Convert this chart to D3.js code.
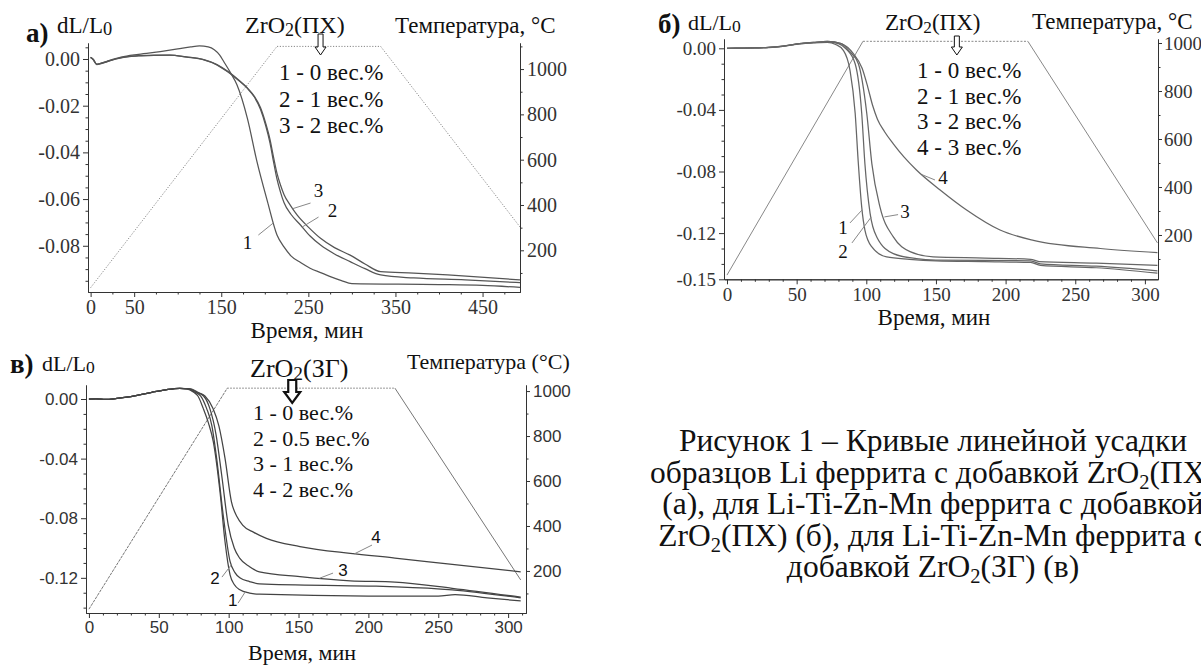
<!DOCTYPE html>
<html>
<head>
<meta charset="utf-8">
<script src="https://cdn.jsdelivr.net/npm/d3@7"></script>
<style>
  body { margin: 0; background: #fff; }
  svg { display: block; }
</style>
</head>
<body>
<svg id="fig" width="1201" height="666"></svg>
<script>
// ---------- data: [time, dL/L0] pairs ----------
// а) Li ferrite + ZrO2(ПХ)
const aCurve1 = [[0,0.0007],[3,-0.0002],[7,-0.0022],[12,-0.0018],[20,-0.0008],[35,0.0008],[55,0.0020],[80,0.0032],[100,0.0043],[115,0.0052],[125,0.0056],[135,0.0052],[142,0.0040],[148,0.0018],[153,-0.0012],[160,-0.0055],[168,-0.0110],[180,-0.0254],[191,-0.0440],[203,-0.0610],[214,-0.0754],[222,-0.0805],[230,-0.0843],[241,-0.0872],[252,-0.0896],[264,-0.0915],[276,-0.0933],[288,-0.0949],[300,-0.0962],[400,-0.0966],[450,-0.0970],[493,-0.0978]];
const aCurve2 = [[0,0.0007],[3,-0.0002],[7,-0.0024],[12,-0.0020],[20,-0.0010],[35,0.0005],[55,0.0013],[75,0.0016],[91,0.0017],[110,0.0008],[130,-0.0004],[145,-0.0025],[157,-0.0054],[170,-0.0092],[180,-0.0126],[188,-0.0163],[195,-0.0215],[201,-0.0285],[206,-0.0360],[210,-0.0440],[214,-0.0515],[218,-0.0570],[222,-0.0615],[230,-0.0665],[241,-0.0711],[252,-0.0758],[264,-0.0797],[280,-0.0835],[298,-0.0868],[315,-0.0898],[333,-0.0925],[371,-0.0938],[430,-0.0946],[493,-0.0958]];
const aCurve3 = [[0,0.0007],[3,-0.0002],[7,-0.0023],[12,-0.0019],[20,-0.0009],[35,0.0006],[55,0.0014],[75,0.0017],[91,0.0017],[110,0.0009],[130,-0.0003],[145,-0.0024],[157,-0.0052],[170,-0.0090],[180,-0.0124],[188,-0.0160],[195,-0.0208],[201,-0.0275],[206,-0.0345],[210,-0.0420],[214,-0.0490],[218,-0.0540],[222,-0.0580],[229,-0.0625],[237,-0.0668],[250,-0.0720],[264,-0.0768],[280,-0.0808],[298,-0.0840],[315,-0.0878],[333,-0.0911],[371,-0.0917],[410,-0.0925],[493,-0.0946]];
const aTemp = [[0,35],[214,1100],[333,1100],[493,303]];
const aLegend = ["1 - 0 вес.%", "2 - 1 вес.%", "3 - 2 вес.%"];
const aTimeTicks = [0, 50, 150, 250, 350, 450];
const aShrinkTicks = [0, -0.02, -0.04, -0.06, -0.08];

// б) Li-Ti-Zn-Mn ferrite + ZrO2(ПХ)
const bCurve1 = [[0,0],[10,0.0001],[20,0.0003],[30,0.0005],[40,0.0012],[52,0.0028],[62,0.0035],[72,0.0038],[78,0.0025],[83.5,-0.0013],[88.3,-0.0143],[92,-0.042],[94.3,-0.075],[96.7,-0.103],[99,-0.118],[104,-0.129],[114.6,-0.1355],[131,-0.137],[150,-0.138],[185,-0.1385],[218,-0.139],[225,-0.141],[265,-0.1425],[309,-0.146]];
const bCurve2 = [[0,0],[10,0.0001],[20,0.0003],[30,0.0006],[40,0.0013],[52,0.003],[62,0.0037],[72,0.0042],[80,0.003],[86,-0.0008],[92,-0.010],[96.7,-0.042],[99,-0.075],[102.7,-0.107],[107.5,-0.1225],[119.4,-0.1333],[136,-0.1366],[150,-0.1375],[218,-0.138],[225,-0.140],[265,-0.1415],[309,-0.1445]];
const bCurve3 = [[0,0],[10,0.0001],[20,0.0003],[30,0.0006],[40,0.0014],[52,0.003],[62,0.0038],[72,0.0045],[82,0.003],[88,-0.002],[94.3,-0.010],[100.3,-0.042],[104,-0.075],[109.8,-0.103],[119.4,-0.1225],[131.4,-0.132],[148,-0.1355],[185,-0.1362],[218,-0.137],[224,-0.1385],[265,-0.1395],[309,-0.141]];
const bCurve4 = [[0,0],[10,0.0001],[20,0.0003],[30,0.0006],[40,0.0014],[52,0.003],[62,0.0038],[72,0.0045],[82,0.003],[90.7,-0.0035],[97,-0.013],[101,-0.025],[104.5,-0.037],[108,-0.046],[113,-0.054],[119.4,-0.062],[127,-0.0705],[136,-0.079],[153,-0.092],[172,-0.105],[196,-0.118],[220,-0.1247],[268,-0.130],[309,-0.1327]];
const bTemp = [[0,33],[97.6,1007],[216,1007],[309,167]];
const bLegend = ["1 - 0 вес.%", "2 - 1 вес.%", "3 - 2 вес.%", "4 - 3 вес.%"];
const bTimeTicks = [0, 50, 100, 150, 200, 250, 300];
const bShrinkTicks = [0, -0.04, -0.08, -0.12, -0.15];

// в) Li-Ti-Zn-Mn ferrite + ZrO2(ЗГ)
const cCurve1 = [[0,0],[5,0.0001],[12,-0.0003],[20,0.0004],[30,0.0016],[45,0.0045],[55,0.0062],[65,0.0071],[70,0.0068],[75,0.0045],[78,0.002],[81.8,-0.0063],[85.5,-0.016],[89,-0.0286],[93.8,-0.0622],[97.4,-0.0958],[101,-0.118],[104,-0.1245],[108,-0.128],[115,-0.1302],[122,-0.131],[200,-0.1322],[250,-0.1322],[262,-0.1312],[285,-0.1335],[309,-0.1355]];
const cCurve2 = [[0,0],[5,0.0001],[12,-0.0003],[20,0.0004],[30,0.0016],[45,0.0045],[55,0.0062],[65,0.0072],[71,0.0068],[76,0.0045],[80,0.002],[84.2,-0.0063],[88,-0.018],[91.4,-0.0398],[96.1,-0.078],[101,-0.109],[104.5,-0.1165],[108,-0.120],[115,-0.1225],[122,-0.124],[200,-0.1255],[220,-0.126],[260,-0.128],[309,-0.1335]];
const cCurve3 = [[0,0],[5,0.0001],[12,-0.0003],[20,0.0004],[30,0.0016],[45,0.0045],[55,0.0062],[65,0.0072],[72,0.0068],[77,0.0045],[82,0.002],[86.5,-0.0063],[91,-0.024],[95,-0.051],[99.7,-0.0846],[104,-0.100],[108,-0.107],[115,-0.1125],[122,-0.116],[151,-0.1192],[187,-0.122],[219,-0.1228],[260,-0.127],[309,-0.133]];
const cCurve4 = [[0,0],[5,0.0001],[12,-0.0003],[20,0.0004],[30,0.0016],[45,0.0045],[55,0.0062],[65,0.0072],[73,0.0068],[78,0.0045],[83,0.002],[88.8,-0.0063],[93,-0.018],[97.4,-0.0398],[102,-0.069],[106,-0.079],[110,-0.0846],[118,-0.0895],[127,-0.0935],[151,-0.099],[187,-0.1036],[219,-0.1067],[260,-0.111],[309,-0.116]];
const cTemp = [[0,30],[99,1013],[219,1013],[309,160]];
const cLegend = ["1 - 0 вес.%", "2 - 0.5 вес.%", "3 - 1 вес.%", "4 - 2 вес.%"];
const cTimeTicks = [0, 50, 100, 150, 200, 250, 300];
const cShrinkTicks = [0, -0.04, -0.08, -0.12];

const tempTicks = [200, 400, 600, 800, 1000];

const captionLines = [
  [["Рисунок 1 – Кривые линейной усадки", 0]],
  [["образцов Li феррита с добавкой ZrO", 0], ["2", 1], ["(ПХ)", 0]],
  [["(а), для Li-Ti-Zn-Mn феррита с добавкой", 0]],
  [["ZrO", 0], ["2", 1], ["(ПХ) (б), для Li-Ti-Zn-Mn феррита с", 0]],
  [["добавкой ZrO", 0], ["2", 1], ["(ЗГ) (в)", 0]]
];

// ---------- drawing ----------
const SERIF = "'Liberation Serif','Times New Roman',serif";
const SANS = "'Liberation Sans',Arial,sans-serif";
const INK = "#111";
const svg = d3.select("#fig");

// text with sub/lowered parts
function rich(g, x, y, parts, size, family, opts = {}) {
  const t = g.append("text")
    .attr("x", x).attr("y", y)
    .attr("font-size", size).attr("font-family", family)
    .attr("font-weight", opts.bold ? "bold" : "normal")
    .attr("text-anchor", opts.anchor || "start")
    .attr("fill", INK);
  const sc = opts.subScale || 0.7, sh = opts.subShift || 3;
  let down = false;
  parts.forEach(([s, sub]) => {
    const ts = t.append("tspan").text(s);
    if (sub && !down) { ts.attr("font-size", size * sc).attr("dy", sh); down = true; }
    else if (!sub && down) { ts.attr("dy", -sh); down = false; }
  });
  return t;
}

function valueAt(curve, t) {
  const i = Math.max(1, Math.min(curve.length - 1, d3.bisector(d => d[0]).left(curve, t)));
  const [t0, v0] = curve[i - 1], [t1, v1] = curve[i];
  return v0 + (v1 - v0) * (t - t0) / (t1 - t0);
}

function minorTicks(dom, step, majors) {
  const lo = Math.ceil(Math.min(...dom) / step - 1e-9), hi = Math.floor(Math.max(...dom) / step + 1e-9);
  return d3.range(lo, hi + 1).map(k => k * step)
    .filter(v => !majors.some(m => Math.abs(m - v) < step * 1e-3));
}

function drawPanel(p) {
  const x = d3.scaleLinear().domain(p.tDom).range(p.xr);
  const y = d3.scaleLinear().domain(p.vDom).range(p.yr);
  const yT = d3.scaleLinear().domain(p.TDom).range(p.yr);
  const g = svg.append("g");

  // temperature programme: heating, dwell, cooling
  const lineT = d3.line().x(d => x(d[0])).y(d => yT(d[1]));
  p.temp.slice(1).forEach((pt, i) => {
    g.append("path").attr("d", lineT([p.temp[i], pt]))
      .attr("fill", "none").attr("stroke", p.tempColor).attr("stroke-width", 1)
      .attr("stroke-dasharray", p.tempDash[i]);
  });

  // shrinkage curves
  const line = d3.line().x(d => x(d[0])).y(d => y(d[1])).curve(d3.curveMonotoneX);
  p.curves.forEach(c => {
    g.append("path").attr("d", line(c))
      .attr("fill", "none").attr("stroke", p.curveColor).attr("stroke-width", 1.25);
  });

  // axes
  const style = sel => sel.attr("font-family", p.tickFont).attr("font-size", p.tickSize).style("color", "#333");
  const fmt = d => d.toFixed(2);
  const bottom = p.yr[0], left = p.xr[0], right = p.xr[1];

  g.append("g").attr("transform", `translate(${left},0)`)
    .call(d3.axisLeft(y).tickValues(p.vTicks).tickFormat(fmt).tickSize(5).tickSizeOuter(0).tickPadding(3)).call(style);
  g.append("g").attr("transform", `translate(${left},0)`)
    .call(d3.axisLeft(y).tickValues(minorTicks(p.vDom, p.vMinor, p.vTicks)).tickFormat("").tickSize(2.5).tickSizeOuter(0)).call(style);

  g.append("g").attr("transform", `translate(0,${bottom})`)
    .call(d3.axisBottom(x).tickValues(p.tTicks).tickFormat(d3.format("d")).tickSize(5).tickSizeOuter(0).tickPadding(3)).call(style);
  g.append("g").attr("transform", `translate(0,${bottom})`)
    .call(d3.axisBottom(x).tickValues(minorTicks(p.tDom, p.tMinor, p.tTicks)).tickFormat("").tickSize(2.5).tickSizeOuter(0)).call(style);

  g.append("g").attr("transform", `translate(${right},0)`)
    .call(d3.axisRight(yT).tickValues(tempTicks).tickFormat(d3.format("d")).tickSize(4).tickSizeOuter(0).tickPadding(p.rightPad)).call(style);
  g.append("g").attr("transform", `translate(${right},0)`)
    .call(d3.axisRight(yT).tickValues(minorTicks(p.TDom, 100, tempTicks)).tickFormat("").tickSize(2.5).tickSizeOuter(0)).call(style);

  // curve number labels with leader lines
  p.marks.forEach(m => {
    const c = p.curves[m.curve];
    g.append("line")
      .attr("x1", x(m.from[0])).attr("y1", y(m.from[1]))
      .attr("x2", x(m.ct)).attr("y2", y(valueAt(c, m.ct)))
      .attr("stroke", "#888").attr("stroke-width", 1);
    g.append("text").attr("x", x(m.at[0])).attr("y", y(m.at[1]))
      .attr("dy", "0.35em").attr("text-anchor", "middle")
      .attr("font-family", p.markFont).attr("font-size", p.markSize).attr("fill", INK)
      .text(m.text);
  });

  // hollow arrow marking the dwell
  const a = p.arrow, cx = x(a.t);
  g.append("path")
    .attr("d", `M${cx - a.sw},${a.y0}L${cx + a.sw},${a.y0}L${cx + a.sw},${a.y1 - a.hh}L${cx + a.hw},${a.y1 - a.hh}L${cx},${a.y1}L${cx - a.hw},${a.y1 - a.hh}L${cx - a.sw},${a.y1 - a.hh}Z`)
    .attr("fill", "#fff").attr("stroke", INK).attr("stroke-width", a.w).attr("stroke-linejoin", "miter");

  // titles
  const tt = p.titles;
  rich(g, tt.panel[0], tt.panel[1], [[p.name, 0]], tt.panelSize, SERIF, { bold: true });
  rich(g, tt.dl[0], tt.dl[1], [["dL/L", 0], ["0", 1]], tt.dlSize, SERIF, { subScale: 0.8, subShift: 2 });
  rich(g, tt.zr[0], tt.zr[1], [["ZrO", 0], ["2", 1], [p.zrType, 0]], tt.zrSize, SERIF, { subScale: 0.75, subShift: 3 });
  rich(g, tt.temp[0], tt.temp[1], [[p.tempTitle, 0]], tt.tempSize, SERIF);
  rich(g, tt.time[0], tt.time[1], [["Время, мин", 0]], tt.timeSize, SERIF, { anchor: "middle" });
  p.legend.forEach((s, i) => {
    rich(g, tt.legend[0], tt.legend[1] + i * tt.legendStep, [[s, 0]], tt.legendSize, SERIF);
  });
}

const panels = [
  {
    name: "а)", zrType: "(ПХ)", tempTitle: "Температура, °C",
    xr: [88, 520], yr: [292, 43], tDom: [-3, 493], vDom: [-0.0998, 0.00685], TDom: [16, 1115],
    curves: [aCurve1, aCurve2, aCurve3], temp: aTemp, legend: aLegend,
    vTicks: aShrinkTicks, vMinor: 0.005, tTicks: aTimeTicks, tMinor: 25,
    tickFont: SERIF, tickSize: 20, rightPad: 3, curveColor: "#555", tempColor: "#888",
    tempDash: ["1.2,1.6", "1.2,1.6", "1.2,1.6"],
    markFont: SERIF, markSize: 19,
    marks: [
      { text: "1", at: [180, -0.0784], from: [192.6, -0.0754], curve: 0, ct: 210 },
      { text: "3", at: [261.7, -0.0561], from: [252.5, -0.0617], curve: 2, ct: 232 },
      { text: "2", at: [277.7, -0.0647], from: [261.7, -0.0677], curve: 1, ct: 243 }
    ],
    arrow: { t: 264, y0: 34, y1: 55, sw: 2.5, hw: 5.5, hh: 8, w: 1 },
    titles: {
      panel: [26, 42], panelSize: 27, dl: [57, 33], dlSize: 23, zr: [245, 33], zrSize: 24,
      temp: [395, 33], tempSize: 23, time: [307, 338], timeSize: 23,
      legend: [279, 80], legendStep: 26.5, legendSize: 23
    }
  },
  {
    name: "б)", zrType: "(ПХ)", tempTitle: "Температура, °C",
    xr: [724, 1158], yr: [279.3, 39], tDom: [-2.15, 309.4], vDom: [-0.15, 0.00604], TDom: [15.4, 1016.7],
    curves: [bCurve1, bCurve2, bCurve3, bCurve4], temp: bTemp, legend: bLegend,
    vTicks: bShrinkTicks, vMinor: 0.01, tTicks: bTimeTicks, tMinor: 10,
    tickFont: SERIF, tickSize: 19, rightPad: 2, curveColor: "#666", tempColor: "#888",
    tempDash: [null, "2,1.5", null],
    markFont: SERIF, markSize: 19,
    marks: [
      { text: "1", at: [83.3, -0.116], from: [88.3, -0.1134], curve: 0, ct: 97 },
      { text: "2", at: [83.3, -0.132], from: [89.7, -0.1264], curve: 1, ct: 103.5 },
      { text: "3", at: [127.8, -0.106], from: [122.8, -0.108], curve: 2, ct: 113 },
      { text: "4", at: [155, -0.0836], from: [149.3, -0.0855], curve: 3, ct: 140 }
    ],
    arrow: { t: 165, y0: 36, y1: 55, sw: 2.5, hw: 5.5, hh: 8, w: 1 },
    titles: {
      panel: [658, 33], panelSize: 27, dl: [688, 30], dlSize: 22, zr: [885, 30], zrSize: 23,
      temp: [1032, 29], tempSize: 23, time: [934, 325], timeSize: 23,
      legend: [917, 78], legendStep: 25.6, legendSize: 23
    }
  },
  {
    name: "в)", zrType: "(ЗГ)", tempTitle: "Температура (°C)",
    xr: [86, 526], yr: [613, 385], tDom: [-2.1, 312.8], vDom: [-0.1436, 0.0094], TDom: [13, 1027],
    curves: [cCurve1, cCurve2, cCurve3, cCurve4], temp: cTemp, legend: cLegend,
    vTicks: cShrinkTicks, vMinor: 0.01, tTicks: cTimeTicks, tMinor: 10,
    tickFont: SANS, tickSize: 17, rightPad: 3, curveColor: "#444", tempColor: "#777",
    tempDash: ["3,1", "1.5,1.5", null],
    markFont: SANS, markSize: 17,
    marks: [
      { text: "4", at: [205.4, -0.0926], from: [202.6, -0.098], curve: 3, ct: 190 },
      { text: "3", at: [181.8, -0.1148], from: [174.7, -0.1168], curve: 2, ct: 165 },
      { text: "2", at: [90.2, -0.120], from: [95.2, -0.1195], curve: 1, ct: 102 },
      { text: "1", at: [103, -0.135], from: [106.7, -0.137], curve: 0, ct: 112 }
    ],
    arrow: { t: 145.5, y0: 380, y1: 403, sw: 4, hw: 8, hh: 11, w: 2.2 },
    titles: {
      panel: [10, 373], panelSize: 27, dl: [42, 371], dlSize: 22, zr: [250, 377], zrSize: 26,
      temp: [407, 369], tempSize: 22, time: [302, 660], timeSize: 22,
      legend: [253, 420], legendStep: 25.7, legendSize: 22
    }
  }
];

panels.forEach(drawPanel);

// figure caption (runs past the right edge, as in the source)
const cap = svg.append("g");
captionLines.forEach((parts, i) => {
  rich(cap, 933, 451 + i * 31.5, parts, 31.5, SERIF, { anchor: "middle", subScale: 0.65, subShift: 6 });
});
</script>
</body>
</html>
